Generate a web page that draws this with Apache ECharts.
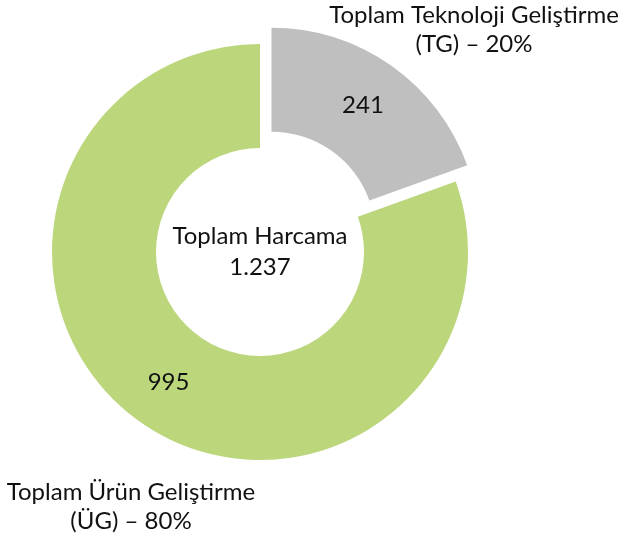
<!DOCTYPE html>
<html>
<head>
<meta charset="utf-8">
<script src="https://cdn.jsdelivr.net/npm/echarts@6/dist/echarts.min.js"></script>
<style>
  html, body { margin: 0; padding: 0; background: #fff; }
  #chart { width: 626px; height: 538px; }
</style>
</head>
<body>
<div id="chart"></div>
<script>
// data
const names = ['Toplam Teknoloji Geliştirme', 'Toplam Ürün Geliştirme']
const shortNames = ['TG', 'ÜG']
const values = [241, 995]
const shares = [20, 80]
const totalLabel = 'Toplam Harcama'
const totalValue = '1.237'
const colors = ['#BFBFBF', '#BBD67B']

// where the category labels sit (centre of the text block)
const namePos = [[474, 30], [131, 507]]

const font = 'Lato, "Noto Sans", sans-serif'
const chart = echarts.init(document.getElementById('chart'))

const pieCenter = [260, 252]
const pieRadius = [104, 208]

const option = {
  animation: false,
  graphic: [
    {
      type: 'text',
      x: pieCenter[0],
      y: pieCenter[1],
      style: {
        text: totalLabel + '\n' + totalValue,
        align: 'center',
        verticalAlign: 'middle',
        fontFamily: font,
        fontSize: 24,
        lineHeight: 31,
        fill: '#111'
      }
    }
  ],
  series: [
    {
      type: 'pie',
      center: pieCenter,
      radius: pieRadius,
      startAngle: 90,
      clockwise: true,
      selectedMode: 'single',
      selectedOffset: 20,
      silent: true,
      label: {
        position: 'inside',
        formatter: '{c}',
        fontFamily: font,
        fontSize: 24,
        color: '#111'
      },
      labelLine: { show: false },
      data: values.map((v, i) => ({
        value: v,
        name: names[i],
        selected: i === 0,
        itemStyle: { color: colors[i] }
      }))
    },
    {
      // transparent copy only used for the category labels
      type: 'pie',
      center: pieCenter,
      radius: pieRadius,
      startAngle: 90,
      silent: true,
      itemStyle: { color: 'rgba(0,0,0,0)' },
      label: {
        show: true,
        position: 'outside',
        overflow: 'none',
        fontFamily: font,
        fontSize: 24,
        lineHeight: 29,
        color: '#111',
        align: 'center',
        formatter: (p) => p.name + '\n(' + shortNames[p.dataIndex] + ') – ' + shares[p.dataIndex] + '%'
      },
      labelLine: { show: false },
      labelLayout: (p) => ({
        x: namePos[p.dataIndex][0],
        y: namePos[p.dataIndex][1],
        align: 'center',
        verticalAlign: 'middle'
      }),
      data: values.map((v, i) => ({ value: v, name: names[i] }))
    }
  ]
}

chart.setOption(option)
</script>
</body>
</html>
